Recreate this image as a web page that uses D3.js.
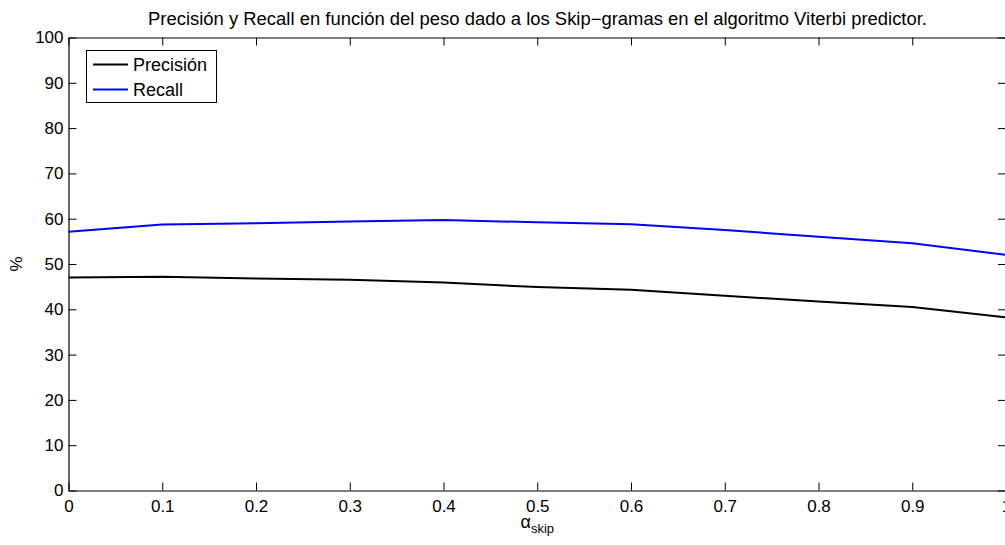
<!DOCTYPE html>
<html>
<head>
<meta charset="utf-8">
<script src="https://cdn.jsdelivr.net/npm/d3@7"></script>
<style>
  html, body { margin: 0; padding: 0; background: #fff; }
  svg { display: block; font-family: "Liberation Sans", Arial, Helvetica, sans-serif; }
</style>
</head>
<body>
<svg id="chart" width="1005" height="545"></svg>
<script>
// Skip-gram weight (alpha) values and measured scores in %
const alphas = [0, 0.1, 0.2, 0.3, 0.4, 0.5, 0.6, 0.7, 0.8, 0.9, 1.0];
const precision = [47.0, 47.2, 46.8, 46.5, 45.9, 44.9, 44.3, 43.0, 41.7, 40.5, 38.2];
const recall = [57.1, 58.7, 59.0, 59.4, 59.7, 59.2, 58.8, 57.5, 56.0, 54.6, 52.0];
const xTicks = [0, 0.1, 0.2, 0.3, 0.4, 0.5, 0.6, 0.7, 0.8, 0.9, 1];
const yTicks = [0, 10, 20, 30, 40, 50, 60, 70, 80, 90, 100];
const seriesNames = ["Precisión", "Recall"];
const seriesColors = ["#000000", "#0000ff"];
const titleText = "Precisión y Recall en función del peso dado a los Skip\u2212gramas en el algoritmo Viterbi predictor.";

const svg = d3.select("#chart");
const plotLeft = 68.5, plotRight = 1006, plotTop = 37.5, plotBottom = 490.5;

const x = d3.scaleLinear().domain([0, 1]).range([plotLeft, plotRight]);
const y = d3.scaleLinear().domain([0, 100]).range([plotBottom, plotTop]);

const tickLen = 8;
const fontSize = 17;

// Bottom axis with inward ticks
const gx = svg.append("g").attr("transform", `translate(0,${plotBottom})`)
  .call(d3.axisBottom(x).tickValues(xTicks).tickFormat(d3.format("")).tickSizeInner(-tickLen).tickSizeOuter(0).tickPadding(9));
// Left axis
const gy = svg.append("g").attr("transform", `translate(${plotLeft},0)`)
  .call(d3.axisLeft(y).tickValues(yTicks).tickSizeInner(-tickLen).tickSizeOuter(0).tickPadding(5));
// Top and right ticks without labels
const gt = svg.append("g").attr("transform", `translate(0,${plotTop})`)
  .call(d3.axisTop(x).tickValues(xTicks).tickFormat("").tickSizeInner(-tickLen).tickSizeOuter(0));
const gr = svg.append("g").attr("transform", `translate(${plotRight},0)`)
  .call(d3.axisRight(y).tickValues(yTicks).tickFormat("").tickSizeInner(-tickLen).tickSizeOuter(0));

[gx, gy, gt, gr].forEach(g => {
  g.select(".domain").attr("stroke", "#000").attr("stroke-width", 1.2);
  g.selectAll(".tick line").attr("stroke", "#000").attr("stroke-width", 1);
  g.selectAll(".tick text").attr("fill", "#000").style("font-size", fontSize + "px")
    .style("font-family", "'Liberation Sans', Arial, Helvetica, sans-serif");
});
gx.selectAll(".tick text").attr("dy", "0.71em");

// Data lines
const line = d3.line().x((d, i) => x(alphas[i])).y(d => y(d));
[precision, recall].forEach((vals, k) => {
  svg.append("path").datum(vals)
    .attr("fill", "none")
    .attr("stroke", seriesColors[k])
    .attr("stroke-width", 2)
    .attr("stroke-linejoin", "round")
    .attr("d", line);
});

// Title
svg.append("text")
  .attr("x", 148).attr("y", 25)
  .attr("textLength", 779)
  .attr("lengthAdjust", "spacingAndGlyphs")
  .style("font-size", "17.5px")
  .attr("fill", "#000")
  .text(titleText);

// Axis labels
const xl = svg.append("text")
  .attr("x", (plotLeft + plotRight) / 2).attr("y", 528)
  .attr("text-anchor", "middle")
  .attr("fill", "#000");
xl.append("tspan").style("font-size", "18px").text("\u03b1");
xl.append("tspan").style("font-size", "13px").attr("dy", 5).text("skip");

svg.append("text")
  .attr("transform", `translate(22,${(plotTop + plotBottom) / 2}) rotate(-90)`)
  .attr("text-anchor", "middle")
  .style("font-size", "17px")
  .attr("fill", "#000")
  .text("%");

// Legend
const lg = svg.append("g");
lg.append("rect")
  .attr("x", 86.5).attr("y", 50.5).attr("width", 130).attr("height", 52)
  .attr("fill", "#fff").attr("stroke", "#000").attr("stroke-width", 1);
seriesNames.forEach((name, k) => {
  const cy = 64.5 + k * 25;
  lg.append("line").attr("x1", 93).attr("x2", 128).attr("y1", cy).attr("y2", cy)
    .attr("stroke", seriesColors[k]).attr("stroke-width", 2);
  lg.append("text").attr("x", 133).attr("y", cy).attr("dy", "0.36em")
    .style("font-size", "18px").attr("fill", "#000").text(name);
});
</script>
</body>
</html>
